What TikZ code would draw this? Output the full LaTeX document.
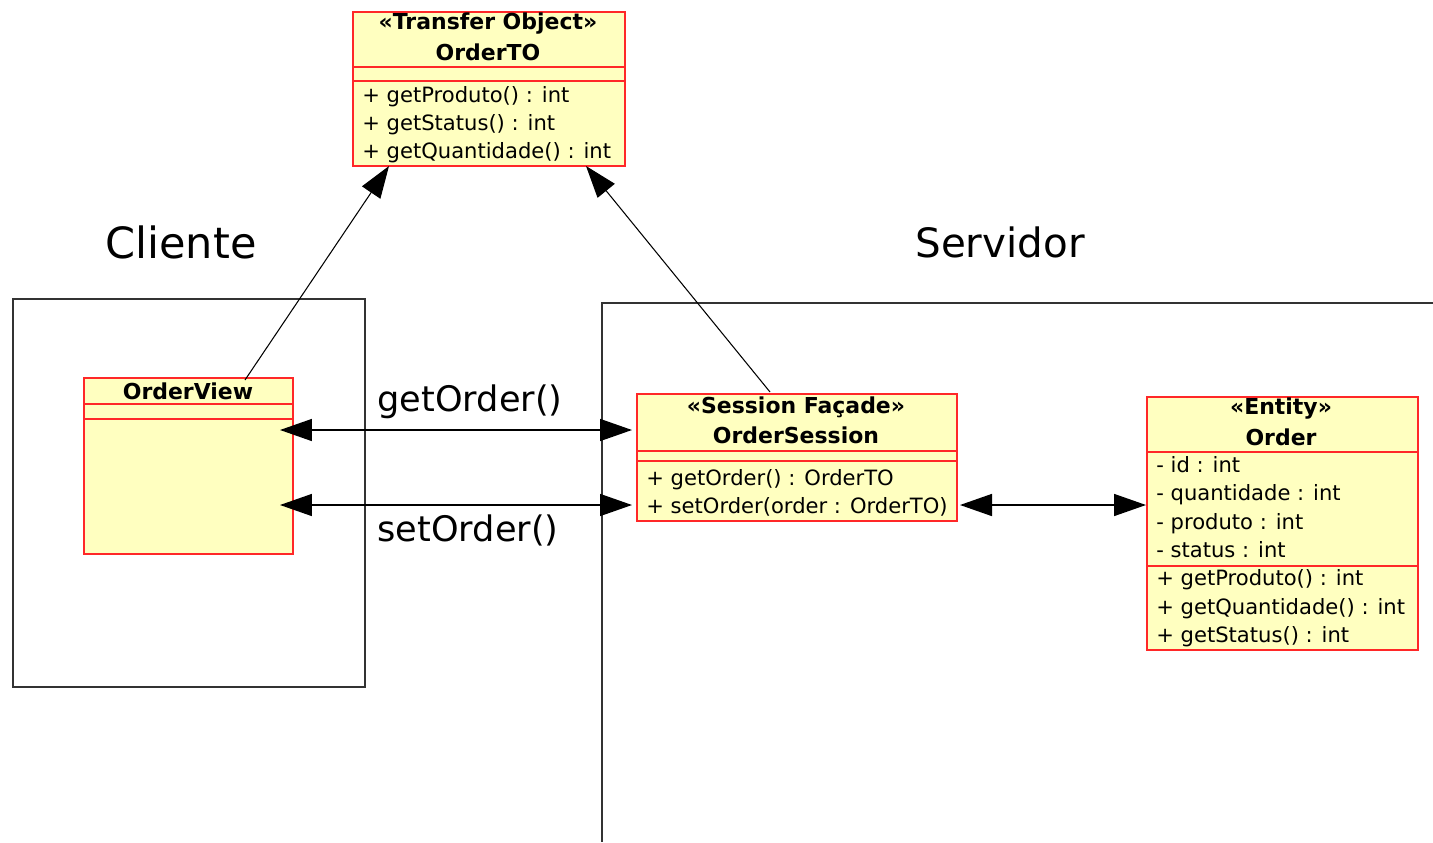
\documentclass[tikz,border=0pt]{standalone}
\usepackage{fontspec}
\setmainfont{DejaVu Sans}
\usetikzlibrary{arrows.meta}
\definecolor{clsfill}{RGB}{255,255,192}
\definecolor{clsline}{RGB}{255,40,40}

\begin{document}
\begin{tikzpicture}[x=0.02cm,y=-0.02cm,
	cls/.style = {draw=clsline, fill=clsfill, line width=0.9pt, anchor=north west, inner sep=0pt},
	head/.style = {font=\fontsize{12.5}{14}\selectfont\bfseries, inner sep=0pt},
	member/.style = {font=\fontsize{12}{14}\selectfont, anchor=west, inner sep=0pt, text height=0.75em, text depth=0.25em},
	link/.style = {line width=0.9pt, {Triangle[length=0.64cm,width=0.44cm]}-{Triangle[length=0.64cm,width=0.44cm]}},
	dep/.style = {line width=0.6pt, -{Triangle[length=0.64cm,width=0.44cm]}}]
	\useasboundingbox (0,0) rectangle (1433,842);

	% client and server areas
	\draw[line width=0.9pt, black!80] (13,299) rectangle (365,687);
	\draw[line width=0.9pt, black!80] (1433,303) -- (602,303) -- (602,842);
	\node[font=\fontsize{24.5}{28}\selectfont] (cli) at (181,242) {Cliente};
	\node[font=\fontsize{23}{28}\selectfont] (srv) at (1000,242) {Servidor};

	% class boxes
	\node[cls, minimum width=5.44cm, minimum height=3.08cm] (TO) at (352,11) {};
	\node[cls, minimum width=4.18cm, minimum height=3.52cm] (View) at (83,377) {};
	\node[cls, minimum width=6.4cm, minimum height=2.54cm] (Session) at (636,393) {};
	\node[cls, minimum width=5.42cm, minimum height=5.06cm] (Order) at (1146,396) {};

	% compartments
	\draw[clsline, line width=0.9pt] (352,67) -- (624,67) (352,81) -- (624,81);
	\draw[clsline, line width=0.9pt] (83,404) -- (292,404) (83,419) -- (292,419);
	\draw[clsline, line width=0.9pt] (636,451) -- (956,451) (636,461) -- (956,461);
	\draw[clsline, line width=0.9pt] (1146,452) -- (1417,452) (1146,566) -- (1417,566);

	% OrderTO
	\node[head] (toS) at (488,24) {«Transfer Object»};
	\node[head] (toN) at (488,52) {OrderTO};
	\node[member] (to1) at (362,98) {+ getProduto() : int};
	\node[member] (to2) at (362,126) {+ getStatus() : int};
	\node[member] (to3) at (362,154) {+ getQuantidade() : int};

	% OrderView
	\node[head] (viewN) at (188,391) {OrderView};

	% OrderSession
	\node[head] (sesS) at (796,407) {«Session Façade»};
	\node[head] (sesN) at (796,435) {OrderSession};
	\node[member] (ses1) at (646,481) {+ getOrder() : OrderTO};
	\node[member] (ses2) at (646,509) {+ setOrder(order : OrderTO)};

	% Order
	\node[head] (ordS) at (1281,409) {«Entity»};
	\node[head] (ordN) at (1281,437) {Order};
	\node[member] (ord1) at (1156,468) {- id : int};
	\node[member] (ord2) at (1156,496) {- quantidade : int};
	\node[member] (ord3) at (1156,525) {- produto : int};
	\node[member] (ord4) at (1156,553) {- status : int};
	\node[member] (ord5) at (1156,581) {+ getProduto() : int};
	\node[member] (ord6) at (1156,610) {+ getQuantidade() : int};
	\node[member] (ord7) at (1156,638) {+ getStatus() : int};

	% connector ends
	\coordinate (vG) at (280,430);
	\coordinate (sG) at (632,430);
	\coordinate (vS) at (280,505);
	\coordinate (sS) at (632,505);
	\coordinate (sO) at (960,505);
	\coordinate (oS) at (1146,505);
	\coordinate (vT) at (245,380);
	\coordinate (tV) at (389,166);
	\coordinate (sT) at (770,392);
	\coordinate (tS) at (586,166);

	\draw [link] (vG) -- (sG);
	\draw [link] (vS) -- (sS);
	\draw [link] (sO) -- (oS);
	\draw [dep] (vT) -- (tV);
	\draw [dep] (sT) -- (tS);
	\node[font=\fontsize{20}{24}\selectfont] (get) at (470,402) {getOrder()};
	\node[font=\fontsize{20}{24}\selectfont] (set) at (468,530) {setOrder()};
\end{tikzpicture}
\end{document}
